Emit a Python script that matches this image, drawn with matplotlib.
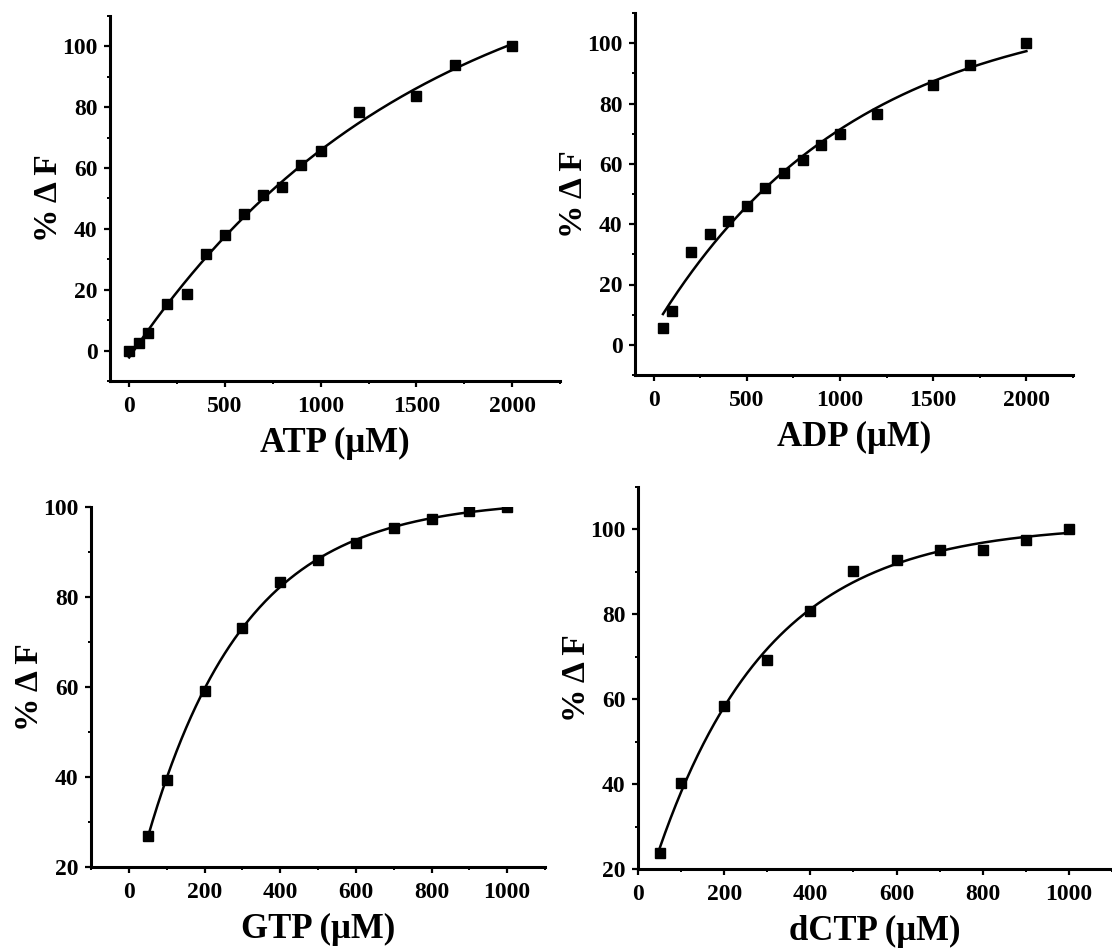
import numpy as np
import matplotlib
matplotlib.use("Agg")
import matplotlib.pyplot as plt
from matplotlib.ticker import MultipleLocator

plt.rcParams['font.family'] = ['Liberation Serif', 'DejaVu Serif']
plt.rcParams['font.weight'] = 'bold'

# data
atp_x = [0, 50, 100, 200, 300, 400, 500, 600, 700, 800, 900, 1000, 1200, 1500, 1700, 2000]
atp_y = [0, 2.5, 5.7, 15.3, 18.6, 31.9, 38.0, 44.8, 51.1, 53.9, 60.9, 65.6, 78.4, 83.6, 94.0, 100]

adp_x = [50, 100, 200, 300, 400, 500, 600, 700, 800, 900, 1000, 1200, 1500, 1700, 2000]
adp_y = [5.6, 11.2, 30.7, 36.7, 40.9, 45.9, 51.9, 56.8, 61.2, 66.4, 69.8, 76.4, 86.2, 92.6, 100]

gtp_x = [50, 100, 200, 300, 400, 500, 600, 700, 800, 900, 1000]
gtp_y = [26.9, 39.4, 59.2, 73.2, 83.4, 88.3, 92.0, 95.3, 97.4, 99.0, 100]

dctp_x = [50, 100, 200, 300, 400, 500, 600, 700, 800, 900, 1000]
dctp_y = [23.7, 40.2, 58.3, 69.3, 80.8, 90.2, 92.7, 95.2, 95.1, 97.5, 100]


def fit_exp(x, y):
    # y = A - B*exp(-x/t), best t by grid search, A and B by least squares
    x = np.asarray(x, float)
    y = np.asarray(y, float)
    best = None
    for t in np.linspace(30, 6000, 3000):
        M = np.column_stack([np.ones_like(x), -np.exp(-x / t)])
        coef, res, rk, sv = np.linalg.lstsq(M, y, rcond=None)
        err = np.sum((M @ coef - y) ** 2)
        if best is None or err < best[0]:
            best = (err, coef, t)
    err, coef, t = best
    xs = np.linspace(x.min(), x.max(), 300)
    return xs, coef[0] - coef[1] * np.exp(-xs / t)


fig = plt.figure(figsize=(11.12, 9.48), dpi=100)

W, H = 1112.0, 948.0
# left, top, right, bottom in pixels
boxes = [(110, 16, 560, 381), (635, 13, 1073, 375), (91, 507, 545, 867), (638, 487, 1112, 869)]
panels = [
    (atp_x, atp_y, "ATP (\u03bcM)", (-100, 2250), (-10, 110), 500, 250, 20, 10),
    (adp_x, adp_y, "ADP (\u03bcM)", (-100, 2250), (-10, 110), 500, 250, 20, 10),
    (gtp_x, gtp_y, "GTP (\u03bcM)", (-100, 1100), (20, 100), 200, 100, 20, 10),
    (dctp_x, dctp_y, "dCTP (\u03bcM)", (0, 1100), (20, 110), 200, 100, 20, 10),
]

for box, p in zip(boxes, panels):
    l, t, r, b = box
    ax = fig.add_axes([l / W, 1 - b / H, (r - l) / W, (b - t) / H])
    x, y, xlab, xl, yl, xmaj, xmin, ymaj, ymin = p
    xs, ys = fit_exp(x, y)
    ax.plot(xs, ys, color='black', lw=1.8, zorder=2)
    ax.plot(x, y, 's', color='black', ms=6.5, zorder=3)
    ax.set_xlim(xl)
    ax.set_ylim(yl)
    ax.xaxis.set_major_locator(MultipleLocator(xmaj))
    ax.xaxis.set_minor_locator(MultipleLocator(xmin))
    ax.yaxis.set_major_locator(MultipleLocator(ymaj))
    ax.yaxis.set_minor_locator(MultipleLocator(ymin))
    for s in ['top', 'right']:
        ax.spines[s].set_visible(False)
    for s in ['left', 'bottom']:
        ax.spines[s].set_linewidth(2.2)
    ax.tick_params(which='major', direction='out', length=4, width=1.6, labelsize=17)
    ax.tick_params(axis='x', which='major', pad=7)
    ax.tick_params(axis='y', which='major', pad=5)
    ax.tick_params(which='minor', direction='out', length=2.5, width=1.4)
    for lb in ax.get_xticklabels() + ax.get_yticklabels():
        lb.set_fontweight('bold')
    ax.set_xlabel(xlab, fontsize=25, fontweight='bold', labelpad=7)
    ax.set_ylabel("% \u0394 F", fontsize=24, fontweight='bold', labelpad=-1)

fig.savefig("out.png", dpi=100)
